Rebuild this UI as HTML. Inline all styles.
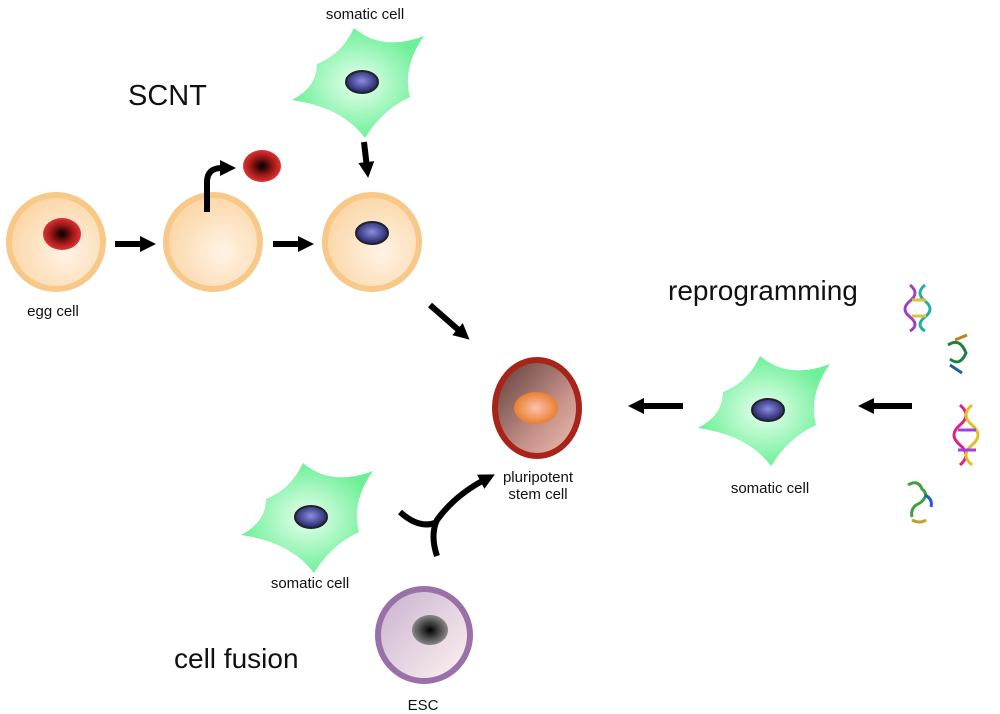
<!DOCTYPE html>
<html><head><meta charset="utf-8"><style>body{margin:0;background:#fff}svg{display:block}text{font-family:"Liberation Sans",Arial,sans-serif;fill:#111}</style></head><body>
<svg width="1000" height="714" viewBox="0 0 1000 714">
<defs>
<radialGradient id="egg" cx="0.6" cy="0.6" r="0.6"><stop offset="0" stop-color="#fff3e6"/><stop offset="1" stop-color="#fbd7a8"/></radialGradient>
<radialGradient id="red"><stop offset="0" stop-color="#000"/><stop offset="0.6" stop-color="#a01818"/><stop offset="1" stop-color="#d33"/></radialGradient>
<radialGradient id="blue" cx="0.5" cy="0.45"><stop offset="0" stop-color="#8a8ee0"/><stop offset="1" stop-color="#2a2a70"/></radialGradient>
<radialGradient id="green"><stop offset="0" stop-color="#e8fff0"/><stop offset="1" stop-color="#6ff098"/></radialGradient>
<linearGradient id="psc" x1="0" y1="0" x2="1" y2="1"><stop offset="0" stop-color="#5a3a38"/><stop offset="0.6" stop-color="#c49088"/><stop offset="1" stop-color="#f2c0b8"/></linearGradient>
<radialGradient id="orng"><stop offset="0" stop-color="#ffc0b0"/><stop offset="1" stop-color="#e88030"/></radialGradient>
<linearGradient id="esc" x1="0" y1="0" x2="1" y2="1"><stop offset="0" stop-color="#c8b0d0"/><stop offset="1" stop-color="#fff4f0"/></linearGradient>
<radialGradient id="gray"><stop offset="0" stop-color="#000"/><stop offset="1" stop-color="#888"/></radialGradient>
<marker id="ah" markerWidth="18" markerHeight="18" refX="6" refY="9" orient="auto" markerUnits="userSpaceOnUse"><path d="M0,1L16,9L0,17z" fill="#000"/></marker>
<g id="som"><path d="M-70,18 Q-45,5 -45,-18 Q-20,-28 -8,-54 Q20,-30 62,-46 Q40,-15 48,15 Q20,28 3,56 Q-20,25 -70,18Z" fill="url(#green)"/><ellipse cx="0" cy="0" rx="16" ry="11" fill="url(#blue)" stroke="#222" stroke-width="2"/></g>
</defs>
<g fill="url(#egg)" stroke="#f8c888" stroke-width="6">
<circle cx="56" cy="242" r="47"/><circle cx="213" cy="242" r="47"/><circle cx="372" cy="242" r="47"/></g>
<ellipse cx="62" cy="234" rx="19" ry="16" fill="url(#red)"/>
<ellipse cx="262" cy="166" rx="19" ry="16" fill="url(#red)"/>
<ellipse cx="372" cy="233" rx="16" ry="11" fill="url(#blue)" stroke="#222" stroke-width="2"/>
<use href="#som" x="362" y="82"/>
<use href="#som" x="768" y="410"/>
<use href="#som" x="311" y="517"/>
<g stroke="#000" stroke-width="6" fill="none">
<path d="M115,244H146" marker-end="url(#ah)"/>
<path d="M273,244H304" marker-end="url(#ah)"/>
<path d="M207,212V182Q207,168 222,168H226" marker-end="url(#ah)"/>
<path d="M364,142L367,168" marker-end="url(#ah)"/>
<path d="M430,305L462,333" marker-end="url(#ah)"/>
<path d="M683,406H638" marker-end="url(#ah)"/>
<path d="M912,406H868" marker-end="url(#ah)"/>
<path d="M400,512Q420,530 437,522"/>
<path d="M437,556Q430,535 437,520Q455,495 486,479" marker-end="url(#ah)"/>
</g>
<ellipse cx="537" cy="408" rx="42" ry="48" fill="url(#psc)" stroke="#a82418" stroke-width="6"/>
<ellipse cx="536" cy="408" rx="22" ry="16" fill="url(#orng)"/>
<circle cx="424" cy="635" r="46" fill="url(#esc)" stroke="#9a70a8" stroke-width="6"/>
<ellipse cx="430" cy="630" rx="18" ry="15" fill="url(#gray)"/>
<g fill="none" stroke-width="3">
<path d="M910,285 q10,8 0,16 q-10,8 0,16 q10,8 0,14" stroke="#a040c0"/><path d="M925,285 q-10,8 0,16 q10,8 0,16 q-10,8 0,14" stroke="#20b0a0"/><path d="M912,300h14M912,316h14" stroke="#e0c040"/>
<path d="M948,345 q12,-8 18,8 q-6,14 -16,6" stroke="#208040"/><path d="M955,340 l12,-5" stroke="#c08020"/><path d="M950,365 l12,8" stroke="#2060a0"/>
<path d="M960,405 q12,10 0,20 q-12,10 0,20 q12,10 0,20" stroke="#e02080"/><path d="M972,405 q-12,10 0,20 q12,10 0,20 q-12,10 0,20" stroke="#e0c020"/><path d="M958,430h18M958,450h18" stroke="#a040e0"/>
<path d="M908,485 q10,-6 14,4 q8,6 -2,14 q-10,4 -8,14" stroke="#40a040"/><path d="M925,495 q8,4 6,12" stroke="#2060c0"/><path d="M912,520 q8,4 14,0" stroke="#c0a030"/>
</g>
<text x="128" y="105" font-size="29">SCNT</text>
<text x="668" y="300" font-size="28">reprogramming</text>
<text x="174" y="668" font-size="28">cell fusion</text>
<g font-size="15" text-anchor="middle">
<text x="365" y="19">somatic cell</text>
<text x="53" y="316">egg cell</text>
<text x="538" y="482">pluripotent</text>
<text x="538" y="499">stem cell</text>
<text x="770" y="493">somatic cell</text>
<text x="310" y="588">somatic cell</text>
<text x="423" y="710">ESC</text>
</g>
</svg>
</body></html>
